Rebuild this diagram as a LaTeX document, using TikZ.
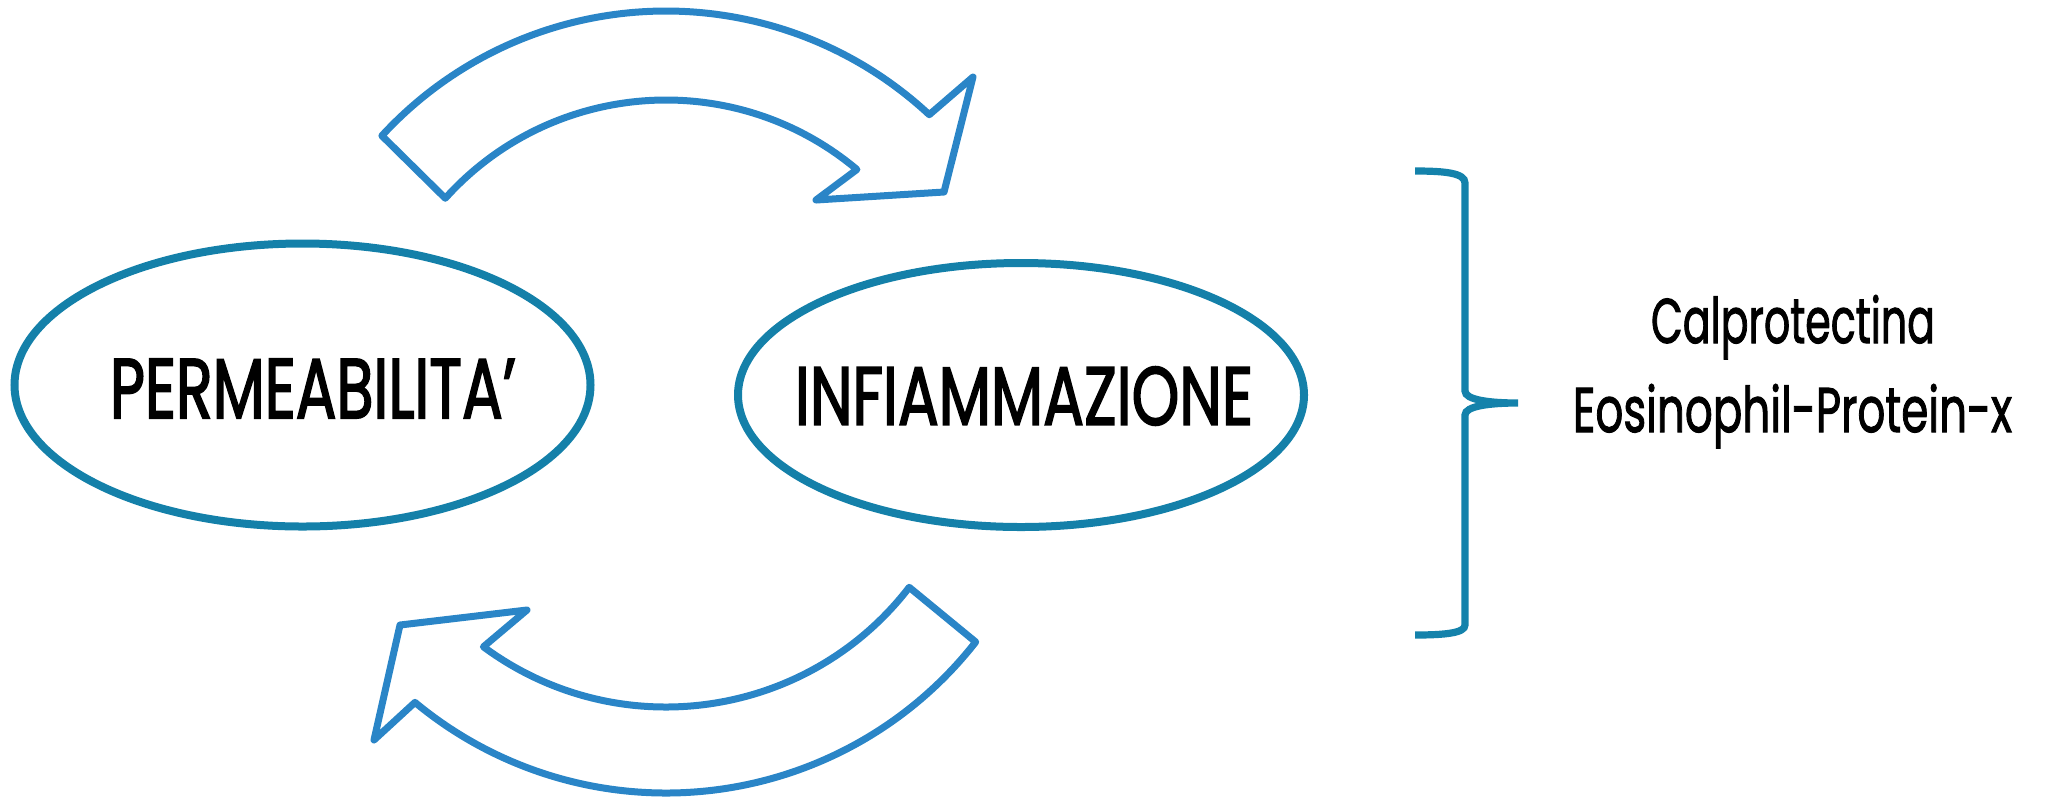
\documentclass[tikz,border=0pt]{standalone}
\usepackage{fontspec}
\setmainfont{Poppins}
\newfontfamily\lblfont{Poppins}[FakeBold=2.4,Ligatures=TeX]
\newfontfamily\sidefont{Poppins}[FakeBold=1.8,Ligatures=TeX]
\usepackage{graphicx}
\usetikzlibrary{shapes.geometric,calc}
\definecolor{ellc}{HTML}{1480A9}
\definecolor{arrc}{HTML}{2A85C7}
\definecolor{brc}{HTML}{1482AB}
\tikzset{
  oval/.style={ellipse, draw=ellc, line width=4pt, inner sep=0pt},
  lbl/.style={inner sep=0pt, text=black},
  bigarrow/.style={draw=arrc, line width=3.5pt, line join=round},
  bracket/.style={draw=brc, line width=3.6pt}
}
\begin{document}
\begin{tikzpicture}[x=0.5pt,y=-0.5pt]
\useasboundingbox (0,0) rectangle (2049,799);
% ellipses
\node[oval, minimum width=288pt, minimum height=141.5pt] (perm) at (302.5,385) {};
\node[oval, minimum width=283pt, minimum height=132pt] (infl) at (1021,395) {};
\node[lbl] (permtext) at (313,388.5) {\resizebox{203pt}{29.5pt}{\lblfont PERMEABILITA’}};
\node[lbl] (infltext) at (1024,396) {\resizebox{229pt}{29pt}{\lblfont INFIAMMAZIONE}};
% top arrow
\coordinate (c1) at (666,397);
\coordinate (t1) at ($(c1)+(222.6:386)$);
\coordinate (t2) at ($(c1)+(310:297)$);
\draw[bigarrow] (t1) arc[start angle=222.6, end angle=313, radius=386]
  -- (973,77) -- (944,192) -- (816,200) -- (t2)
  arc[start angle=310, end angle=222, radius=297] -- cycle;
% bottom arrow
\coordinate (c2) at (666,400);
\coordinate (b1) at ($(c2)+(38:393)$);
\coordinate (b2) at ($(c2)+(126.5:307)$);
\draw[bigarrow] (b1) arc[start angle=38, end angle=129.7, radius=393]
  -- (374,740) -- (400,625) -- (527,610) -- (b2)
  arc[start angle=126.5, end angle=37.6, radius=307] -- cycle;
% bracket
\coordinate (brtop) at (1415,171);
\coordinate (brtip) at (1518,403);
\coordinate (brbot) at (1415,635);
\draw[bracket] (brtop) .. controls (1445,171) and (1465,173) .. (1465,183)
  -- (1465,391) .. controls (1465,400) and (1490,403) .. (brtip)
  .. controls (1490,403) and (1465,406) .. (1465,415)
  -- (1465,625) .. controls (1465,633) and (1445,635) .. (brbot);
% texts
\node[lbl, anchor=base] (calp) at (1793,343) {\resizebox{142pt}{24pt}{\sidefont Calprotectina}};
\node[lbl, anchor=base] (eos) at (1792.5,432) {\resizebox{219.5pt}{24pt}{\sidefont Eosinophil-Protein-x}};
\end{tikzpicture}
\end{document}
